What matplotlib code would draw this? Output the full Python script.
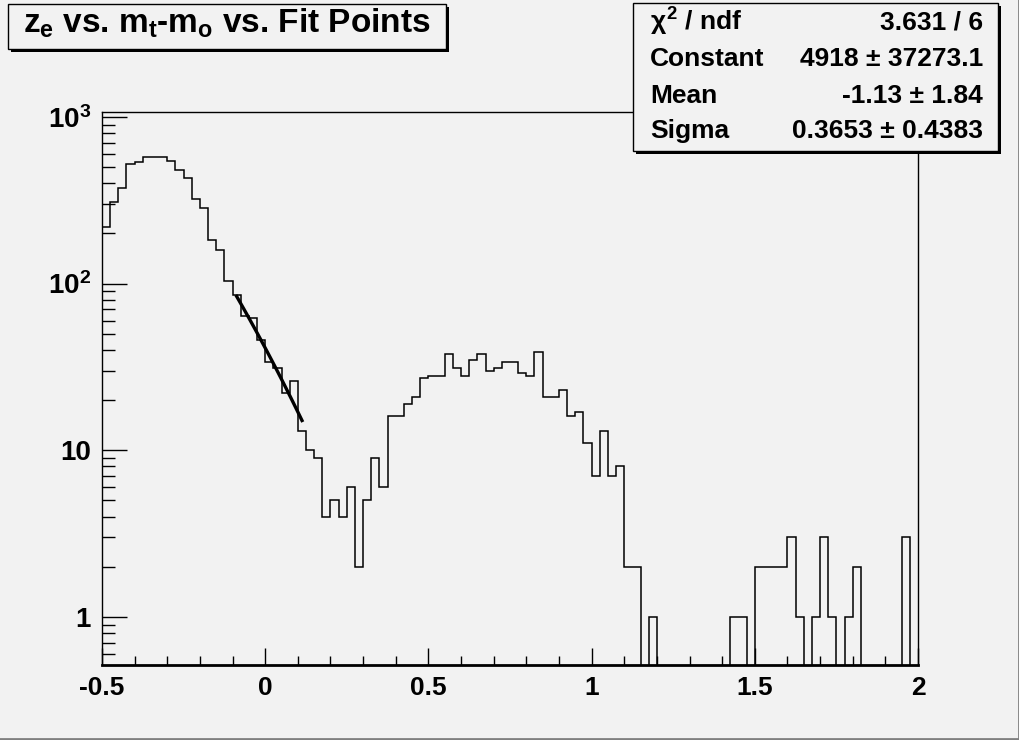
import matplotlib
matplotlib.use("Agg")
import matplotlib.pyplot as plt
import numpy as np
from matplotlib.patches import Rectangle
from matplotlib.lines import Line2D
from matplotlib.ticker import FixedLocator, FixedFormatter, MultipleLocator, LogLocator, NullFormatter, FuncFormatter


# histogram: 100 bins from -0.5 to 2.0
x_lo = -0.5
x_hi = 2.0
counts = [218, 310, 373, 522, 534, 572, 572, 572, 542, 478,
          428, 320, 283, 182, 158, 103, 85, 64, 62, 46,
          34, 31, 22, 26, 13, 10, 9, 4, 5, 4,
          6, 2, 5, 9, 6, 16, 16, 19, 21, 27,
          28, 28, 38, 31, 28, 35, 38, 30, 31, 34,
          34, 29, 28, 39, 21, 21, 23, 16, 17, 11,
          7, 13, 7, 8, 2, 2, 0, 1, 0, 0,
          0, 0, 0, 0, 0, 0, 0, 1, 1, 0,
          2, 2, 2, 2, 3, 1, 0, 1, 3, 1,
          0, 1, 2, 0, 0, 0, 0, 0, 3, 0]

# gaussian fit result (stats box)
fit_const = 4918
fit_mean = -1.13
fit_sigma = 0.3653
fit_range = [-0.09, 0.115]

title = r"$z_e$ vs. $m_t$-$m_o$ vs. Fit Points"
stat_names = [r"$\chi^{2}$ / ndf", "Constant", "Mean", "Sigma"]
stat_values = ["3.631 / 6", "4918 \u00b1 37273.1", "-1.13 \u00b1 1.84", "0.3653 \u00b1 0.4383"]

y_ticks = [1, 10, 100, 1000]
y_tick_labels = ["1", "10", r"$10^{2}$", r"$10^{3}$"]

W, H = 1020, 740
bg = "#f2f2f2"

plt.rcParams['font.family'] = ['Liberation Sans', 'DejaVu Sans']
plt.rcParams['font.weight'] = 'bold'
plt.rcParams['mathtext.fontset'] = 'custom'
plt.rcParams['mathtext.rm'] = 'Liberation Sans:bold'
plt.rcParams['mathtext.it'] = 'Liberation Sans:bold'
plt.rcParams['mathtext.bf'] = 'Liberation Sans:bold'


def fx(px):
    return px / W


def fy(py):
    return 1 - py / H


def root_box(fig, x0, y0, x1, y1):
    """box with a ROOT style shadow, coords in pixels from top left"""
    sh = Rectangle((fx(x0 + 3), fy(y1 + 3)), fx(x1 - x0), (y1 - y0) / H,
                   transform=fig.transFigure, facecolor="black", edgecolor="none", zorder=5)
    box = Rectangle((fx(x0), fy(y1)), fx(x1 - x0), (y1 - y0) / H,
                    transform=fig.transFigure, facecolor=bg, edgecolor="black", lw=1.0, zorder=6)
    fig.add_artist(sh)
    fig.add_artist(box)


fig = plt.figure(figsize=(W / 100, H / 100), dpi=100, facecolor=bg)
ax = fig.add_axes([fx(102), fy(665), fx(918 - 102), (665 - 112) / H])
ax.set_facecolor(bg)

edges = np.linspace(x_lo, x_hi, len(counts) + 1)
vals = np.array(counts, dtype=float)
# empty bins go down to the bottom of the frame
vals = np.where(vals > 0, vals, 1e-3)
ax.stairs(vals, edges, baseline=1e-3, color="black", lw=1.1)

# fit function
xf = np.linspace(fit_range[0], fit_range[1], 60)
yf = fit_const * np.exp(-0.5 * ((xf - fit_mean) / fit_sigma) ** 2)
ax.plot(xf, yf, color="black", lw=2.4, solid_capstyle="butt")

ax.set_yscale("log")
ax.set_xlim(x_lo, x_hi)
ax.set_ylim(0.515, 1070)

ax.xaxis.set_major_locator(MultipleLocator(0.5))
ax.xaxis.set_minor_locator(MultipleLocator(0.1))
ax.xaxis.set_major_formatter(FuncFormatter(lambda v, p: "%g" % round(v, 2)))
ax.yaxis.set_major_locator(FixedLocator(y_ticks))
ax.yaxis.set_major_formatter(FixedFormatter(y_tick_labels))
ax.yaxis.set_minor_locator(LogLocator(subs=np.arange(2, 10)))
ax.yaxis.set_minor_formatter(NullFormatter())

ax.tick_params(axis="x", which="major", direction="in", length=12, width=1, labelsize=19, pad=8)
ax.tick_params(axis="x", which="minor", direction="in", length=6.5, width=1)
ax.tick_params(axis="y", which="major", direction="in", length=18, width=1, labelsize=20, pad=8)
ax.tick_params(axis="y", which="minor", direction="in", length=9, width=1)
for s in ax.spines.values():
    s.set_linewidth(1.0)
ax.spines["bottom"].set_linewidth(2.0)

# title box
root_box(fig, 8, 4, 446, 49)
fig.text(fx(227), fy(23), title, fontsize=24, fontweight="bold", ha="center", va="center", zorder=7)

# stats box
root_box(fig, 633, 3, 998, 151)
row_y = [22, 59, 96, 131]
for name, val, yy in zip(stat_names, stat_values, row_y):
    fig.text(fx(650), fy(yy), name, fontsize=19, fontweight="bold", ha="left", va="center", zorder=7)
    fig.text(fx(983), fy(yy), val, fontsize=19, fontweight="bold", ha="right", va="center", zorder=7)

# canvas bevel
fig.add_artist(Line2D([0, 1], [fy(739), fy(739)], transform=fig.transFigure, color="#808080", lw=2))
fig.add_artist(Line2D([fx(1019), fx(1019)], [0, 1], transform=fig.transFigure, color="#808080", lw=2))

fig.savefig("out.png", dpi=100, facecolor=bg)
